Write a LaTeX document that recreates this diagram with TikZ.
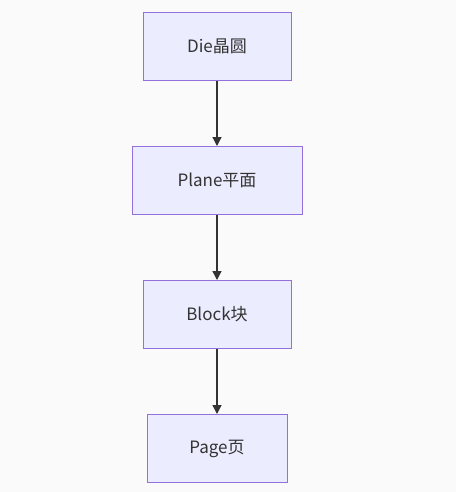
\documentclass[tikz,border=0pt]{standalone}
\usepackage{fontspec}
\setmainfont{Noto Sans CJK SC}
\usetikzlibrary{positioning, arrows.meta}
\definecolor{boxfill}{HTML}{ECECFF}
\definecolor{boxline}{HTML}{9370DB}
\definecolor{arrowc}{HTML}{333333}
\definecolor{bgc}{HTML}{FAFAFA}

\begin{document}
\begin{tikzpicture}[x=1pt, y=1pt, node distance=65pt,
  box/.style={draw=boxline, fill=boxfill, line width=1pt, minimum height=68pt, inner sep=0pt, font=\fontsize{17}{20}\selectfont, text=arrowc},
  flow/.style={-{Triangle[length=9pt, width=9pt]}, draw=arrowc, fill=arrowc, line width=1.3pt}]
  \fill[bgc] (0,0) rectangle (456,-492);
  \useasboundingbox (0,0) rectangle (456,-492);
  \node[box, minimum width=148pt] at (217,-46.5)  (die)   {Die晶圆};
  \node[box, minimum width=170pt, below=of die]   (plane) {Plane平面};
  \node[box, minimum width=148pt, below=of plane] (block) {Block块};
  \node[box, minimum width=140pt, below=of block] (page)  {Page页};

  \draw[flow] (die)   -- (plane);
  \draw[flow] (plane) -- (block);
  \draw[flow] (block) -- (page);
\end{tikzpicture}
\end{document}
